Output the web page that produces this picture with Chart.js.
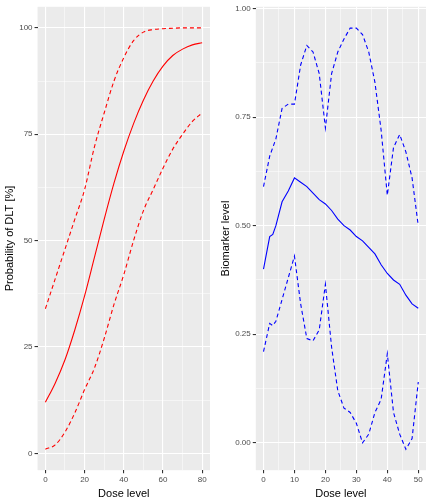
<!DOCTYPE html>
<html>
<head>
<script src="https://cdn.jsdelivr.net/npm/chart.js@4"></script>
<style>
  body { margin: 0; background: #fff; }
  .wrap { display: flex; width: 432px; height: 504px; }
  .panel { position: relative; width: 216px; height: 504px; }
</style>
</head>
<body>
<div class="wrap">
  <div class="panel"><canvas id="left"></canvas></div>
  <div class="panel"><canvas id="right"></canvas></div>
</div>
<script>
// ── Left panel: probability of DLT ──
const doseL = [0, 5, 10, 15, 20, 25, 30, 35, 40, 45, 50, 55, 60, 65, 70, 75, 80];
const meanL = [12, 16.5, 22, 29, 37, 46, 55, 63.5, 71, 77.5, 83, 87.5, 91, 93.5, 95, 96, 96.5];
const upperL = [34, 41, 48, 55, 62, 72, 80, 87.5, 93, 97, 99, 99.6, 99.8, 99.9, 100, 100, 100];
const lowerL = [1, 2, 5, 9.5, 15, 20, 27, 35, 42, 50, 57, 62, 67, 71.5, 75, 78, 80];

// ── Right panel: biomarker ──
const doseR = [0, 2, 3, 4, 6, 8, 10, 12, 14, 16, 18, 20, 22, 24, 26, 28, 30, 32, 34, 36, 38, 40, 42, 44, 46, 48, 50];
const meanR = [0.40, 0.475, 0.48, 0.50, 0.555, 0.58, 0.61, 0.60, 0.59, 0.575, 0.56, 0.55, 0.535, 0.515, 0.50, 0.49, 0.475, 0.465, 0.45, 0.435, 0.41, 0.39, 0.375, 0.365, 0.34, 0.32, 0.31];
const upperR = [0.59, 0.66, 0.68, 0.70, 0.77, 0.78, 0.78, 0.87, 0.915, 0.90, 0.85, 0.725, 0.85, 0.90, 0.93, 0.955, 0.955, 0.94, 0.90, 0.83, 0.72, 0.57, 0.68, 0.71, 0.67, 0.61, 0.50];
const lowerR = [0.21, 0.275, 0.27, 0.28, 0.33, 0.38, 0.43, 0.32, 0.24, 0.235, 0.26, 0.365, 0.22, 0.12, 0.08, 0.07, 0.045, 0.0, 0.02, 0.07, 0.10, 0.205, 0.07, 0.02, -0.015, 0.01, 0.14];

const pts = (xs, ys) => xs.map((x, i) => ({ x, y: ys[i] }));

function axis(min, max, ticks, majorEvery, fmt, title) {
  return {
    type: "linear",
    min, max,
    afterBuildTicks: (s) => { s.ticks = ticks.map((v) => ({ value: v })); },
    grid: {
      color: "#fff",
      lineWidth: (c) => (isMajor(c.tick.value, majorEvery) ? 1.1 : 0.5),
      tickColor: (c) => (isMajor(c.tick.value, majorEvery) ? "#333" : "rgba(0,0,0,0)"),
      tickLength: 3,
      drawTicks: true,
    },
    border: { display: false },
    ticks: {
      autoSkip: false,
      maxRotation: 0,
      padding: 2,
      color: "#4D4D4D",
      font: { family: "Liberation Sans", size: 8 },
      callback: (v) => (isMajor(v, majorEvery) ? fmt(v) : ""),
    },
    title: { display: true, text: title, color: "#000", padding: 1, font: { family: "Liberation Sans", size: 11 } },
  };
}
function isMajor(v, every) {
  return Math.abs(v / every - Math.round(v / every)) < 1e-6;
}

const bgPlugin = {
  id: "bg",
  beforeDraw(chart) {
    const { ctx, chartArea: a } = chart;
    ctx.save();
    ctx.fillStyle = "#EBEBEB";
    ctx.fillRect(a.left, a.top, a.right - a.left, a.bottom - a.top);
    ctx.restore();
  },
};

function makeChart(id, datasets, xAxis, yAxis) {
  return new Chart(document.getElementById(id), {
    type: "line",
    data: { datasets },
    options: {
      responsive: true,
      maintainAspectRatio: false,
      animation: false,
      layout: { padding: { top: 6, right: 6, left: 2, bottom: 2 } },
      plugins: { legend: { display: false }, tooltip: { enabled: false } },
      elements: { point: { radius: 0 } },
      scales: { x: xAxis, y: yAxis },
    },
    plugins: [bgPlugin],
  });
}

const line = (data, color, dashed, tension) => ({
  data, borderColor: color, borderWidth: 1.1, borderDash: dashed ? [4, 3] : [],
  tension, fill: false, cubicInterpolationMode: tension ? "monotone" : "default",
});

makeChart(
  "left",
  [
    line(pts(doseL, upperL), "#FF0000", true, 0.4),
    line(pts(doseL, meanL), "#FF0000", false, 0.4),
    line(pts(doseL, lowerL), "#FF0000", true, 0.4),
  ],
  axis(-4, 84, [0, 10, 20, 30, 40, 50, 60, 70, 80], 20, (v) => String(v), "Dose level"),
  axis(-3.95, 104.95, [0, 12.5, 25, 37.5, 50, 62.5, 75, 87.5, 100], 25, (v) => String(v), "Probability of DLT [%]")
);

makeChart(
  "right",
  [
    line(pts(doseR, upperR), "#0000FF", true, 0),
    line(pts(doseR, meanR), "#0000FF", false, 0),
    line(pts(doseR, lowerR), "#0000FF", true, 0),
  ],
  axis(-2.5, 52.5, [0, 5, 10, 15, 20, 25, 30, 35, 40, 45, 50], 10, (v) => String(v), "Dose level"),
  axis(-0.063, 1.004, [0, 0.125, 0.25, 0.375, 0.5, 0.625, 0.75, 0.875, 1], 0.25, (v) => v.toFixed(2), "Biomarker level")
);
</script>
</body>
</html>
